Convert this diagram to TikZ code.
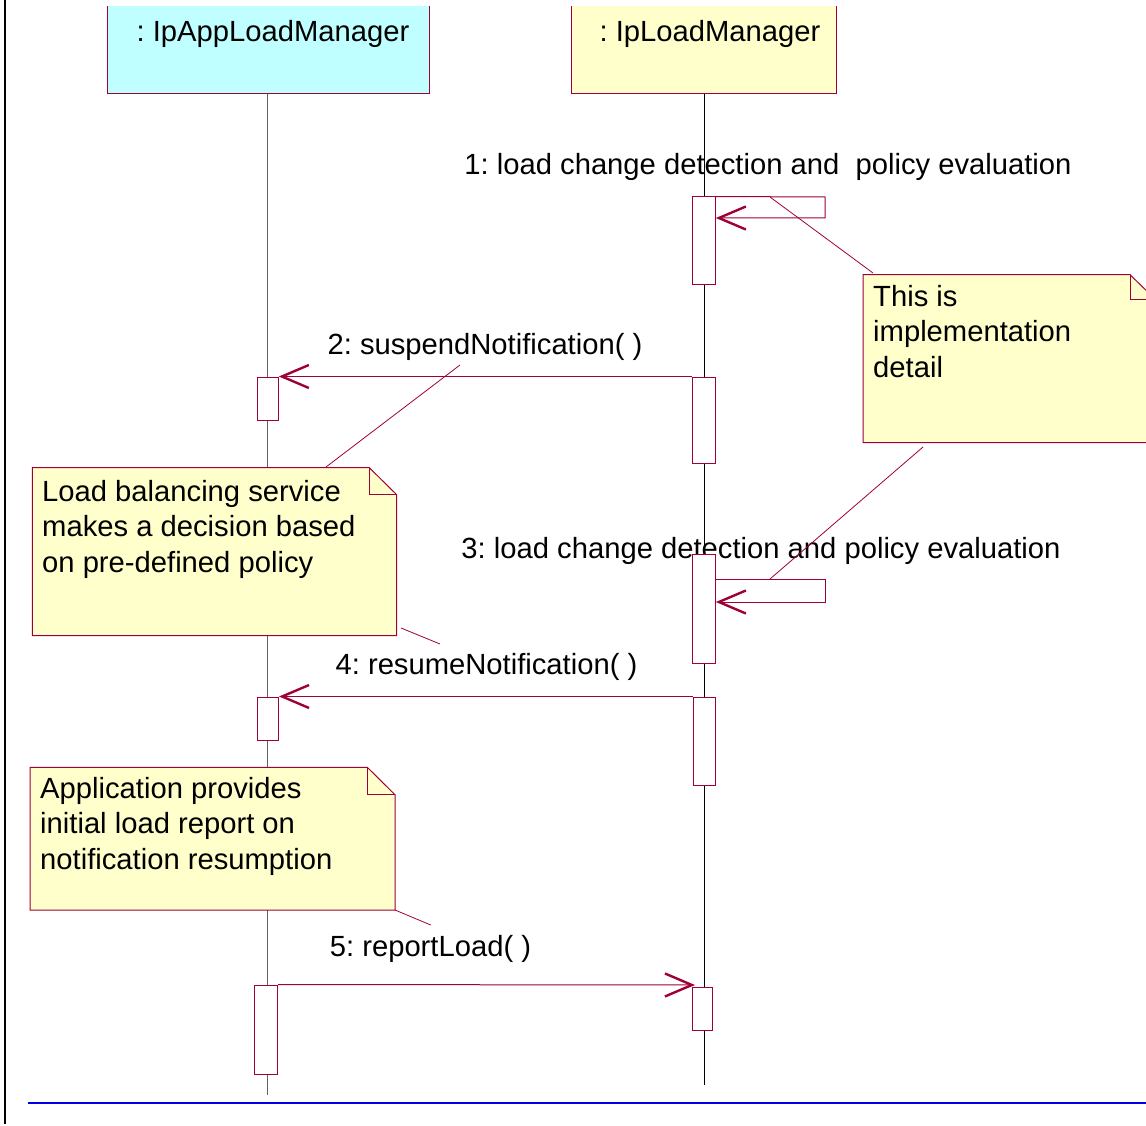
\documentclass[tikz,border=0pt]{standalone}
\usepackage{fontspec}
\setmainfont{Liberation Sans}
\usetikzlibrary{arrows.meta}
\frenchspacing

\definecolor{umlred}{RGB}{160,0,56}
\definecolor{notefill}{RGB}{255,255,204}
\definecolor{appfill}{RGB}{191,255,255}
\definecolor{ruleblue}{RGB}{0,0,230}

\tikzset{
  lbl/.style={font=\fontsize{29.2}{35.7}\selectfont\frenchspacing, inner sep=0pt, anchor=base},
  notetext/.style={lbl, anchor=base west},
  hdr/.style={inner sep=0pt, draw=none},
  hdrline/.style={draw=umlred, line width=1pt},
  act/.style={draw=umlred, line width=1pt, fill=white, inner sep=0pt},
  lifeline/.style={line width=1pt},
  msg/.style={draw=umlred, line width=1pt,
    -{Straight Barb[length=27pt,width=23pt,line width=2.4pt]}},
  notebox/.style={draw=umlred, line width=1pt, fill=notefill},
  fold/.style={draw=umlred, line width=1pt},
  anchorline/.style={draw=umlred, line width=0.8pt}
}

\begin{document}
\begin{tikzpicture}[x=1pt,y=-1pt]
\useasboundingbox (0,0) rectangle (1146,1126);
\clip (0,0) rectangle (1146,1126);

% margin rule and footer rule
\draw[line width=2.6pt] (5,0) -- (5,1124);
\draw[draw=ruleblue, line width=2.2pt] (28,1103) -- (1146,1103);

% object headers
\node[hdr, fill=appfill, minimum width=321pt, minimum height=87pt] (app) at (268.5,50) {};
\draw[hdrline] (app.north west) -- (app.south west) -- (app.south east) -- (app.north east);
\node[lbl] (applbl) at (273,42) {: IpAppLoadManager};

\node[hdr, fill=notefill, minimum width=264pt, minimum height=87pt] (lm) at (704,50) {};
\draw[hdrline] (lm.north west) -- (lm.south west) -- (lm.south east) -- (lm.north east);
\node[lbl] (lmlbl) at (710,42) {: IpLoadManager};

% message labels
\node[lbl] (m1lbl) at (768,175) {1: load change detection and\ \ policy evaluation};
\node[lbl] (m2lbl) at (485,354) {2: suspendNotification( )};
\node[lbl] (m3lbl) at (761,558) {3: load change detection and policy evaluation};
\node[lbl] (m4lbl) at (486.5,674) {4: resumeNotification( )};
\node[lbl] (m5lbl) at (430.5,956) {5: reportLoad( )};

% lifelines
\coordinate (append) at (267,1095);
\coordinate (lmend) at (704,1085);
\draw[lifeline, black!62] (app.south -| append) -- (append);
\draw[lifeline] (lm.south) -- (lmend);

% activations on IpLoadManager
\node[act, minimum width=22.6pt, minimum height=87pt]  (r1) at (704,240.5) {};
\node[act, minimum width=22.6pt, minimum height=86pt]  (r2) at (703.7,420) {};
\node[act, minimum width=22.6pt, minimum height=109pt] (r3) at (704,608.8) {};
\node[act, minimum width=22pt,   minimum height=88pt]  (r4) at (704,741) {};
\node[act, minimum width=20pt,   minimum height=42.7pt] (r5) at (702.3,1008.7) {};

% activations on IpAppLoadManager
\node[act, minimum width=21pt,   minimum height=43pt] (l2) at (267.8,398.5) {};
\node[act, minimum width=21pt,   minimum height=43pt] (l4) at (268,718.5) {};
\node[act, minimum width=23.4pt, minimum height=89pt] (l5) at (266,1029.5) {};

% self messages
\coordinate (s1a) at (825,197);
\coordinate (s1b) at (825,218);
\draw[msg] (r1.north east) -- (s1a) -- (s1b) -- (r1.east |- s1b);
\coordinate (s3top) at (715.3,579);
\coordinate (s3a) at (825,579);
\coordinate (s3b) at (825,602);
\draw[msg] (s3top) -- (s3a) -- (s3b) -- (r3.east |- s3b);

% calls between the objects
\draw[msg] (r2.north west) -- (l2.north east);
\draw[msg] (r4.north west) -- (l4.north east);
\coordinate (m5tip) at (695,985);
\draw[msg] (l5.north east) -- (m5tip);

% notes
\path[notebox] (863,274.7) -- (1130,274.7) -- (1155,299) -- (1155,442.7) -- (863,442.7) -- cycle;
\draw[fold] (1130,274.7) -- (1130,299) -- (1155,299);
\node[notetext] (n1) at (873,306)
  {\begin{tabular}[t]{@{}l@{}}This is\\implementation\\detail\end{tabular}};

\path[notebox] (32.3,467.7) -- (369.3,467.7) -- (396.7,494.7) -- (396.7,635.7) -- (32.3,635.7) -- cycle;
\draw[fold] (369.3,467.7) -- (369.3,494.7) -- (396.7,494.7);
\node[notetext] (n2) at (42,501)
  {\begin{tabular}[t]{@{}l@{}}Load balancing service\\makes a decision based\\on pre-defined policy\end{tabular}};

\path[notebox] (30,767.3) -- (367.3,767.3) -- (395,794.7) -- (395,910) -- (30,910) -- cycle;
\draw[fold] (367.3,767.3) -- (367.3,794.7) -- (395,794.7);
\node[notetext] (n3) at (40,798)
  {\begin{tabular}[t]{@{}l@{}}Application provides\\initial load report on\\notification resumption\end{tabular}};

% note anchors
\coordinate (s1mid) at (770,197);
\coordinate (n1top) at (873,273);
\coordinate (n1bot) at (923,447);
\coordinate (s3mid) at (770,579);
\coordinate (m2mid) at (460,365);
\coordinate (n2top) at (326,467);
\coordinate (n2corner) at (401,628);
\coordinate (m4end) at (440,644);
\coordinate (n3corner) at (395,910);
\coordinate (m5end) at (430.7,925);
\draw[anchorline] (s1mid) -- (n1top);
\draw[anchorline] (n1bot) -- (s3mid);
\draw[anchorline] (m2mid) -- (n2top);
\draw[anchorline] (n2corner) -- (m4end);
\draw[anchorline] (n3corner) -- (m5end);
\end{tikzpicture}
\end{document}
